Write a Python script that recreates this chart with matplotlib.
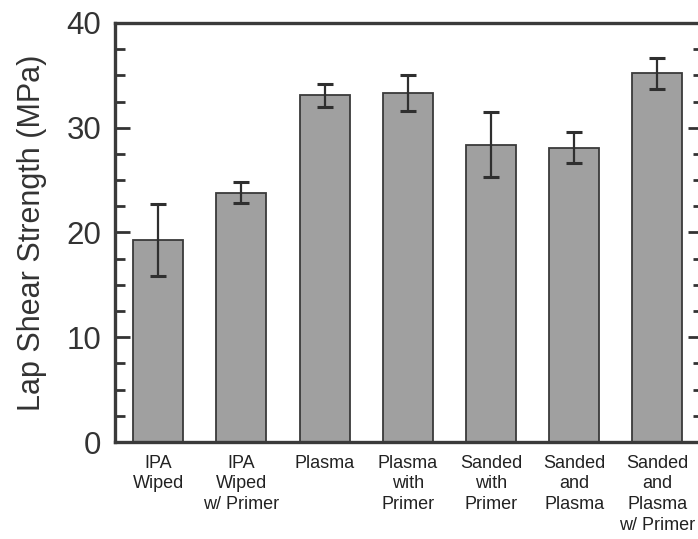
import matplotlib
matplotlib.use("Agg")
import matplotlib.pyplot as plt
from matplotlib.ticker import MultipleLocator

categories = ["IPA\nWiped", "IPA\nWiped\nw/ Primer", "Plasma", "Plasma\nwith\nPrimer",
              "Sanded\nwith\nPrimer", "Sanded\nand\nPlasma", "Sanded\nand\nPlasma\nw/ Primer"]
strength = [19.3, 23.8, 33.1, 33.3, 28.4, 28.1, 35.2]
errors = [3.45, 1.0, 1.1, 1.7, 3.1, 1.5, 1.5]
y_ticks = [0, 10, 20, 30, 40]

plt.rcParams['font.family'] = ['Liberation Sans', 'DejaVu Sans']

fig = plt.figure(figsize=(6.98, 5.39), dpi=100)
ax = fig.add_axes([115/698, 97/539, 588/698, 419/539])

x = list(range(len(categories)))
ax.bar(x, strength, width=0.6, color='#a0a0a0', edgecolor='#3a3a3a', linewidth=1.3, zorder=2)
ax.errorbar(x, strength, yerr=errors, fmt='none', ecolor='#2f2f2f', elinewidth=1.6,
            capsize=5.5, capthick=2.2, zorder=3)

ax.set_xlim(-0.52, 6.55)
ax.set_ylim(0, 40)
ax.set_yticks(y_ticks)
ax.yaxis.set_minor_locator(MultipleLocator(2.5))
ax.tick_params(axis='y', which='major', direction='in', length=10.5, width=2.0,
               colors='#333333', labelsize=22.5, pad=10, right=True, left=True)
ax.tick_params(axis='y', which='minor', direction='in', length=7, width=2.0,
               colors='#333333', right=True, left=True)
ax.set_xticks(x)
ax.set_xticklabels(categories, fontsize=13, color='#222222', linespacing=1.3, va='top')
ax.tick_params(axis='x', length=0, pad=9)

for s in ['left', 'right', 'top', 'bottom']:
    ax.spines[s].set_linewidth(2.4)
    ax.spines[s].set_color('#3a3a3a')

ax.set_ylabel("Lap Shear Strength (MPa)", fontsize=22, color='#333333', labelpad=14)

fig.savefig("out.png", dpi=100)
